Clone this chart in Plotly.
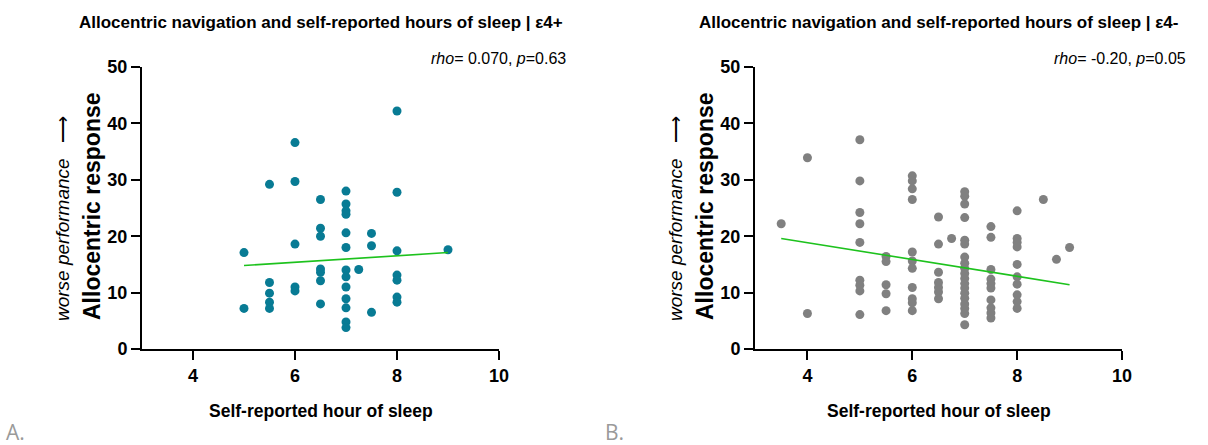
import plotly.graph_objects as go

# ε4+ carriers: self-reported sleep hours vs allocentric response
pos_sleep = [5, 5,
             5.5, 5.5, 5.5, 5.5, 5.5,
             6, 6, 6, 6, 6,
             6.5, 6.5, 6.5, 6.5, 6.5, 6.5, 6.5,
             7, 7, 7, 7, 7, 7, 7, 7, 7, 7, 7, 7, 7,
             7.25,
             7.5, 7.5, 7.5,
             8, 8, 8, 8, 8, 8, 8,
             9]
pos_resp = [17.1, 7.2,
            29.2, 11.8, 9.9, 8.3, 7.2,
            36.6, 29.7, 18.6, 11.0, 10.3,
            26.5, 21.4, 20.0, 14.2, 13.6, 12.1, 8.0,
            28.0, 25.7, 24.5, 23.9, 20.6, 18.0, 14.0, 12.8, 11.0, 8.9, 7.3, 4.8, 3.8,
            14.1,
            20.5, 18.3, 6.5,
            42.2, 27.8, 17.4, 13.1, 12.2, 9.2, 8.3,
            17.6]
pos_fit_x = [5, 9]
pos_fit_y = [14.8, 17.1]

# ε4- non-carriers
neg_sleep = [3.5,
             4, 4,
             5, 5, 5, 5, 5, 5, 5, 5, 5,
             5.5, 5.5, 5.5, 5.5, 5.5,
             6, 6, 6, 6, 6, 6, 6, 6, 6, 6, 6,
             6.5, 6.5, 6.5, 6.5, 6.5, 6.5, 6.5,
             6.75,
             7, 7, 7, 7, 7, 7, 7, 7, 7, 7, 7, 7, 7, 7, 7, 7, 7, 7, 7,
             7.5, 7.5, 7.5, 7.5, 7.5, 7.5, 7.5, 7.5, 7.5, 7.5,
             8, 8, 8, 8, 8, 8, 8, 8, 8, 8,
             8.5,
             8.75,
             9]
neg_resp = [22.2,
            33.9, 6.3,
            37.1, 29.8, 24.2, 22.2, 18.9, 12.2, 11.3, 10.3, 6.1,
            16.4, 15.5, 11.4, 9.8, 6.8,
            30.7, 29.8, 28.4, 26.5, 17.2, 15.6, 14.3, 10.9, 8.9, 8.2, 6.8,
            23.4, 18.6, 13.6, 11.8, 10.9, 10.1, 8.9,
            19.6,
            27.9, 27.1, 25.7, 23.3, 19.3, 18.6, 16.3, 15.2, 14.3, 13.4, 12.5, 11.6,
            10.8, 9.9, 9.0, 8.0, 7.2, 6.3, 4.3,
            21.7, 19.8, 14.1, 12.4, 11.6, 10.8, 8.7, 7.3, 6.4, 5.5,
            24.5, 19.6, 18.9, 18.1, 15.0, 12.8, 11.5, 9.6, 8.4, 7.2,
            26.5,
            15.9,
            18.0]
neg_fit_x = [3.5, 9]
neg_fit_y = [19.6, 11.4]

x_ticks = [4, 6, 8, 10]
y_ticks = [0, 10, 20, 30, 40, 50]

titles = ["Allocentric navigation and self-reported hours of sleep | ε4+",
          "Allocentric navigation and self-reported hours of sleep | ε4-"]
stats = ["<i>rho</i>= 0.070, <i>p</i>=0.63", "<i>rho</i>= -0.20, <i>p</i>=0.05"]

W, H = 1208, 445
SANS = "Liberation Sans, Arial, sans-serif"

fig = go.Figure()

fig.add_trace(go.Scatter(x=pos_sleep, y=pos_resp, mode="markers",
                         marker=dict(color="#087B94", size=9, line=dict(width=0)),
                         xaxis="x", yaxis="y", showlegend=False, hoverinfo="x+y"))
fig.add_trace(go.Scatter(x=pos_fit_x, y=pos_fit_y, mode="lines",
                         line=dict(color="#1DC21D", width=1.6),
                         xaxis="x", yaxis="y", showlegend=False))
fig.add_trace(go.Scatter(x=neg_sleep, y=neg_resp, mode="markers",
                         marker=dict(color="#808080", size=9, line=dict(width=0)),
                         xaxis="x2", yaxis="y2", showlegend=False, hoverinfo="x+y"))
fig.add_trace(go.Scatter(x=neg_fit_x, y=neg_fit_y, mode="lines",
                         line=dict(color="#1DC21D", width=1.6),
                         xaxis="x2", yaxis="y2", showlegend=False))

# panel geometry in pixels (left edge, right edge of the x axis)
panels = [(142, 499), (755, 1122)]
y_top, y_bot = 67, 349
ydom = [(H - y_bot) / H, (H - y_top) / H]

tickfont = dict(family=SANS, size=18, color="black", weight="bold")

def xaxis(dom, anchor):
    return dict(domain=dom, range=[3, 10], tickvals=x_ticks, showline=True,
                linecolor="black", linewidth=2, ticks="outside", ticklen=9,
                tickwidth=2, tickcolor="black", showgrid=False, zeroline=False,
                anchor=anchor, automargin=False, tickfont=tickfont)

def yaxis(anchor):
    return dict(domain=ydom, range=[0, 50], tickvals=y_ticks, showline=True,
                linecolor="black", linewidth=2, ticks="outside", ticklen=9,
                tickwidth=2, tickcolor="black", showgrid=False, zeroline=False,
                anchor=anchor, automargin=False, tickfont=tickfont)

def px(xp, yp):
    return xp / W, (H - yp) / H

annotations = []
stat_right = [568, 1188]
for i, (x0, x1) in enumerate(panels):
    cx = (x0 + x1) / 2
    ax, ay = px(cx, 23)
    annotations.append(dict(text="<b>" + titles[i] + "</b>", x=ax, y=ay,
                            xref="paper", yref="paper", showarrow=False,
                            xanchor="center", yanchor="middle",
                            font=dict(family=SANS, size=17, color="black")))
    ax, ay = px(stat_right[i], 58)
    annotations.append(dict(text=stats[i], x=ax, y=ay,
                            xref="paper", yref="paper", showarrow=False,
                            xanchor="right", yanchor="middle",
                            font=dict(family=SANS, size=16, color="black")))
    ax, ay = px(cx, 411)
    annotations.append(dict(text="<b>Self-reported hour of sleep</b>", x=ax, y=ay,
                            xref="paper", yref="paper", showarrow=False,
                            xanchor="center", yanchor="middle",
                            font=dict(family=SANS, size=17.5, color="black")))
    ax, ay = px(x0 - 50, 206)
    annotations.append(dict(text="<b>Allocentric response</b>", x=ax, y=ay,
                            xref="paper", yref="paper", showarrow=False,
                            textangle=-90, xanchor="center", yanchor="middle",
                            font=dict(family=SANS, size=23, color="black")))
    ax, ay = px(x0 - 80, 219)
    annotations.append(dict(text="<i>worse performance</i>   ⟶", x=ax, y=ay,
                            xref="paper", yref="paper", showarrow=False,
                            textangle=-90, xanchor="center", yanchor="middle",
                            font=dict(family=SANS, size=19, color="black")))

for label, xp in [("A.", 4), ("B.", 603)]:
    ax, ay = px(xp, 432)
    annotations.append(dict(text=label, x=ax, y=ay, xref="paper", yref="paper",
                            showarrow=False, xanchor="left", yanchor="middle",
                            font=dict(family="Open Sans, Lato, sans-serif", size=21,
                                      color="#9a9a9a")))

fig.update_layout(
    width=W, height=H,
    margin=dict(l=0, r=0, t=0, b=0, pad=0, autoexpand=False),
    paper_bgcolor="white", plot_bgcolor="white",
    xaxis=xaxis([panels[0][0] / W, panels[0][1] / W], "y"),
    yaxis=yaxis("x"),
    xaxis2=xaxis([panels[1][0] / W, panels[1][1] / W], "y2"),
    yaxis2=yaxis("x2"),
    annotations=annotations,
)

fig.write_html("out.html")
